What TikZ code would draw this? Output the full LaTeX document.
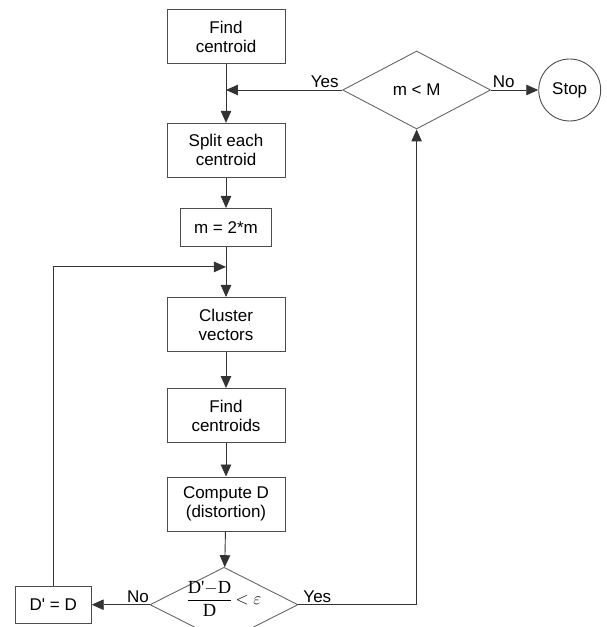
\documentclass[tikz,border=0pt]{standalone}
\usepackage{fontspec}
\setmainfont{Liberation Sans}
\newfontfamily\timesfont{Liberation Serif}
\usetikzlibrary{shapes.geometric,arrows.meta,calc}

\begin{document}
\begin{tikzpicture}[node distance=3.3cm, font=\fontsize{17}{19}\selectfont]

% Styles
\tikzstyle{process} = [rectangle, minimum width=118pt, minimum height=54pt, align=center, draw=black!70, line width=0.9pt]
\tikzstyle{decision} = [diamond, minimum width=148pt, minimum height=76pt, inner sep=0pt, align=center, draw=black!60, line width=0.9pt]
\tikzstyle{stopnode} = [circle, minimum size=62pt, inner sep=0pt, draw=black!70, line width=0.9pt]
\tikzstyle{arrow} = [line width=0.9pt, draw=black!80, -{Triangle[length=12pt,width=10.5pt]}]
\tikzstyle{answer} = [inner sep=1.5pt]

\useasboundingbox (-226pt,36.5pt) rectangle (380pt,-590.5pt);

% Main column
\node (fc) [process] {Find\\centroid};
\node (split) [process, node distance=4cm, below of=fc] {Split each\\centroid};
\node (mm) [process, minimum width=91pt, minimum height=38pt, node distance=2.71cm, below of=split] {m = 2*m};
\node (cluster) [process, node distance=3.41cm, below of=mm] {Cluster\\vectors};
\node (fcs) [process, node distance=3.2cm, below of=cluster] {Find\\centroids};
\node (comp) [process, node distance=3.11cm, below of=fcs] {Compute D\\(distortion)};
\node (dec) [decision, minimum height=74pt, node distance=3.54cm, below of=comp, xshift=-2pt] {\smash{\fontsize{18.5}{20}\selectfont\timesfont$\displaystyle\frac{\hbox{D\textquotesingle$-$D}}{\hbox{D}}$\,$<\varepsilon$}};

% Side nodes
\node (dd) [process, minimum width=76pt, minimum height=37pt, node distance=6cm, left of=dec] {D\textquotesingle{} = D};
\node (mM) [decision, minimum height=78pt, node distance=6.7cm, right of=fc, yshift=-1.88cm] {m < M};
\node (stop) [stopnode, node distance=5.38cm, right of=mM] {Stop};

% Junctions
\coordinate (jtop) at (fc.south |- mM.west);
\coordinate (jmid) at ($(mm.south)!0.4!(cluster.north)$);

% Arrows
\draw [arrow] (fc) -- (split);
\draw [arrow] (split) -- (mm);
\draw [arrow] (mm) -- (cluster);
\draw [arrow] (cluster) -- (fcs);
\draw [arrow] (fcs) -- (comp);
\draw [arrow] (comp) -- (dec);
\draw [arrow] (mM.west) -- node[answer, above, pos=0.15] {Yes} (jtop);
\draw [arrow] (mM.east) -- node[answer, above, pos=0.27] {No} (stop);
\draw [arrow] (dec.east) -| node[answer, above, pos=0.08] {Yes} (mM.south);
\draw [arrow] (dec.west) -- node[answer, above, pos=0.2] {No} (dd.east);
\draw [arrow] (dd.north) |- (jmid);

\end{tikzpicture}
\end{document}
